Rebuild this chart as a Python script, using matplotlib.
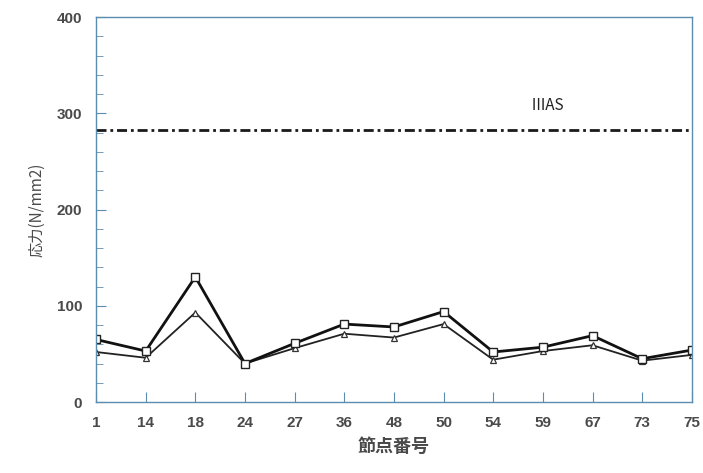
import numpy as np
import matplotlib
matplotlib.use("Agg")
import matplotlib.pyplot as plt
from matplotlib.ticker import MultipleLocator

plt.rcParams['font.family'] = ['Noto Sans CJK JP', 'DejaVu Sans']

# data
nodes = ['1', '14', '18', '24', '27', '36', '48', '50', '54', '59', '67', '73', '75']
stress_sq = [65, 53, 130, 40, 61, 81, 78, 94, 52, 57, 69, 45, 54]
stress_tri = [52, 46, 93, 40, 56, 71, 67, 81, 44, 53, 59, 43, 49]
allow_stress = 283
allow_label = 'ⅢAS'

axis_col = '#5b8db0'
text_col = '#4a4a4a'

fig = plt.figure(figsize=(7.03, 4.73), dpi=100)
ax = fig.add_axes([0.1366, 0.150, 0.8475, 0.814])

x = np.arange(len(nodes))
ax.plot(x, stress_tri, color='#222222', lw=1.3, marker='^', ms=5,
        mfc='white', mec='#333333', mew=0.9)
ax.plot(x, stress_sq, color='#111111', lw=2.0, marker='s', ms=6,
        mfc='white', mec='#222222', mew=1.0)
ax.axhline(allow_stress, color='#1a1a1a', lw=2.0, ls=(0, (3.6, 1.4, 1.0, 1.4)))
ax.text(9.1, allow_stress + 16, allow_label, fontsize=11, color='#222222',
        ha='center', va='bottom')

ax.set_xlim(0, len(nodes) - 1)
ax.set_ylim(0, 400)
ax.set_xticks(x)
ax.set_xticklabels(nodes)
ax.yaxis.set_major_locator(MultipleLocator(100))
ax.yaxis.set_minor_locator(MultipleLocator(20))

for s in ax.spines.values():
    s.set_color(axis_col)
    s.set_linewidth(1.0)
ax.tick_params(axis='both', which='major', direction='in', length=7,
               color=axis_col, labelsize=11, labelcolor=text_col, pad=10)
ax.tick_params(axis='y', which='minor', direction='in', length=5, color=axis_col)
for lab in ax.get_xticklabels() + ax.get_yticklabels():
    lab.set_family('Liberation Sans')
    lab.set_fontweight('bold')

ax.set_ylabel('応力(N/mm2)', fontsize=11, color=text_col, labelpad=8)
ax.set_xlabel('節点番号', fontsize=13, color=text_col, labelpad=5, fontweight='bold')

fig.savefig('out.png', dpi=100)
